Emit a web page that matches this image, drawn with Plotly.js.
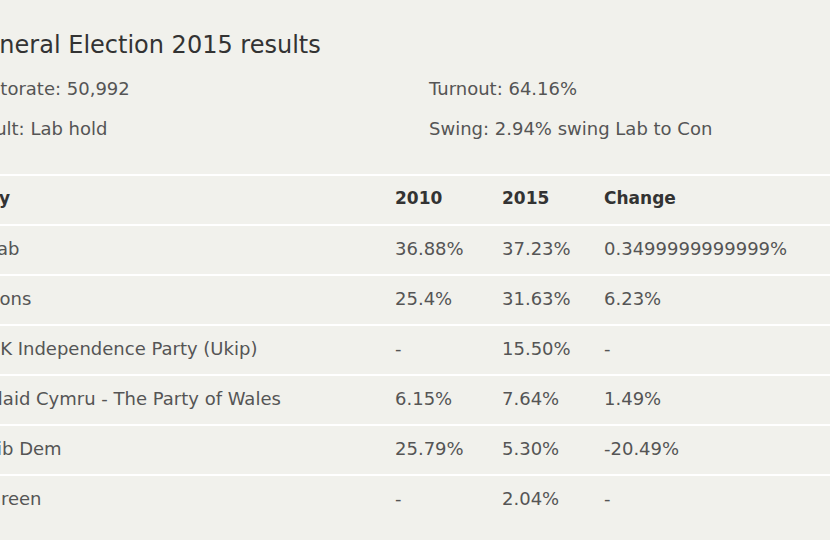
<!DOCTYPE html>
<html>
<head>
<meta charset="utf-8">
<script src="https://cdn.plot.ly/plotly-3.0.1.min.js"></script>
<style>
  html, body { margin: 0; padding: 0; background: #f1f1ec; overflow: hidden; }
  /* the reference is cropped on the left, so the plot starts left of the window */
  #chart { width: 880px; height: 540px; margin-left: -50px; }
</style>
</head>
<body>
<div id="chart"></div>
<script>
// table content
var title = "General Election 2015 results";
var meta_left = ["Electorate: 50,992", "Result: Lab hold"];
var meta_right = ["Turnout: 64.16%", "Swing: 2.94% swing Lab to Con"];
var headers = ["Party", "2010", "2015", "Change"];
var parties = ["Lab", "Cons", "UK Independence Party (Ukip)", "Plaid Cymru - The Party of Wales", "Lib Dem", "Green"];
var share_2010 = ["36.88%", "25.4%", "-", "6.15%", "25.79%", "-"];
var share_2015 = ["37.23%", "31.63%", "15.50%", "7.64%", "5.30%", "2.04%"];
var change = ["0.3499999999999%", "6.23%", "-", "1.49%", "-20.49%", "-"];

// layout helpers (x in window px, y in row units: header = 0, first party = 1)
var col_x = [-13, 395, 502, 604];
var head_x = -37;
var party_head_x = -41;
var right_x = 429;
var title_row = -3.06;
var meta_rows = [-2.2, -1.4];

var font = "DejaVu Sans, sans-serif";
var body_col = "#555555";
var dark_col = "#333333";

var rows = parties.map(function (p, i) { return i + 1; });
var columns = [parties, share_2010, share_2015, change];

var data = [];

// title and meta lines
data.push({
    type: 'scatter', mode: 'text', x: [-34], y: [title_row], text: [title],
    textposition: 'middle right', cliponaxis: false, hoverinfo: 'skip',
    textfont: { family: font, size: 24, color: dark_col }
});
data.push({
    type: 'scatter', mode: 'text', x: meta_left.map(function () { return head_x; }), y: meta_rows,
    text: meta_left, textposition: 'middle right', cliponaxis: false, hoverinfo: 'skip',
    textfont: { family: font, size: 18, color: body_col }
});
data.push({
    type: 'scatter', mode: 'text', x: meta_right.map(function () { return right_x; }), y: meta_rows,
    text: meta_right, textposition: 'middle right', cliponaxis: false, hoverinfo: 'skip',
    textfont: { family: font, size: 18, color: body_col }
});

// header row
data.push({
    type: 'scatter', mode: 'text',
    x: [party_head_x, col_x[1], col_x[2], col_x[3]], y: headers.map(function () { return 0; }),
    text: headers.map(function (h) { return "<b>" + h + "</b>"; }),
    textposition: 'middle right', cliponaxis: false, hoverinfo: 'skip',
    textfont: { family: font, size: 17, color: dark_col }
});

// body cells, one trace per column
for (let c = 0; c < columns.length; c++) {
    data.push({
        type: 'scatter', mode: 'text',
        x: rows.map(function () { return col_x[c]; }), y: rows,
        text: columns[c], textposition: 'middle right', cliponaxis: false, hoverinfo: 'skip',
        textfont: { family: font, size: 18, color: body_col }
    });
}

// white row separators
var shapes = [];
for (let i = 0; i <= parties.length; i++) {
    shapes.push({
        type: 'line', xref: 'paper', yref: 'y', x0: 0, x1: 1, y0: i - 0.5, y1: i - 0.5,
        line: { color: '#ffffff', width: 2 }, layer: 'below'
    });
}

var layout = {
    width: 880, height: 540,
    margin: { l: 0, r: 0, t: 0, b: 0 },
    paper_bgcolor: '#f1f1ec', plot_bgcolor: '#f1f1ec',
    showlegend: false,
    xaxis: { range: [-50, 830], visible: false, fixedrange: true },
    yaxis: { range: [6.8, -4.0], visible: false, fixedrange: true },
    shapes: shapes
};

Plotly.newPlot('chart', data, layout, { displayModeBar: false, staticPlot: true });
</script>
</body>
</html>
